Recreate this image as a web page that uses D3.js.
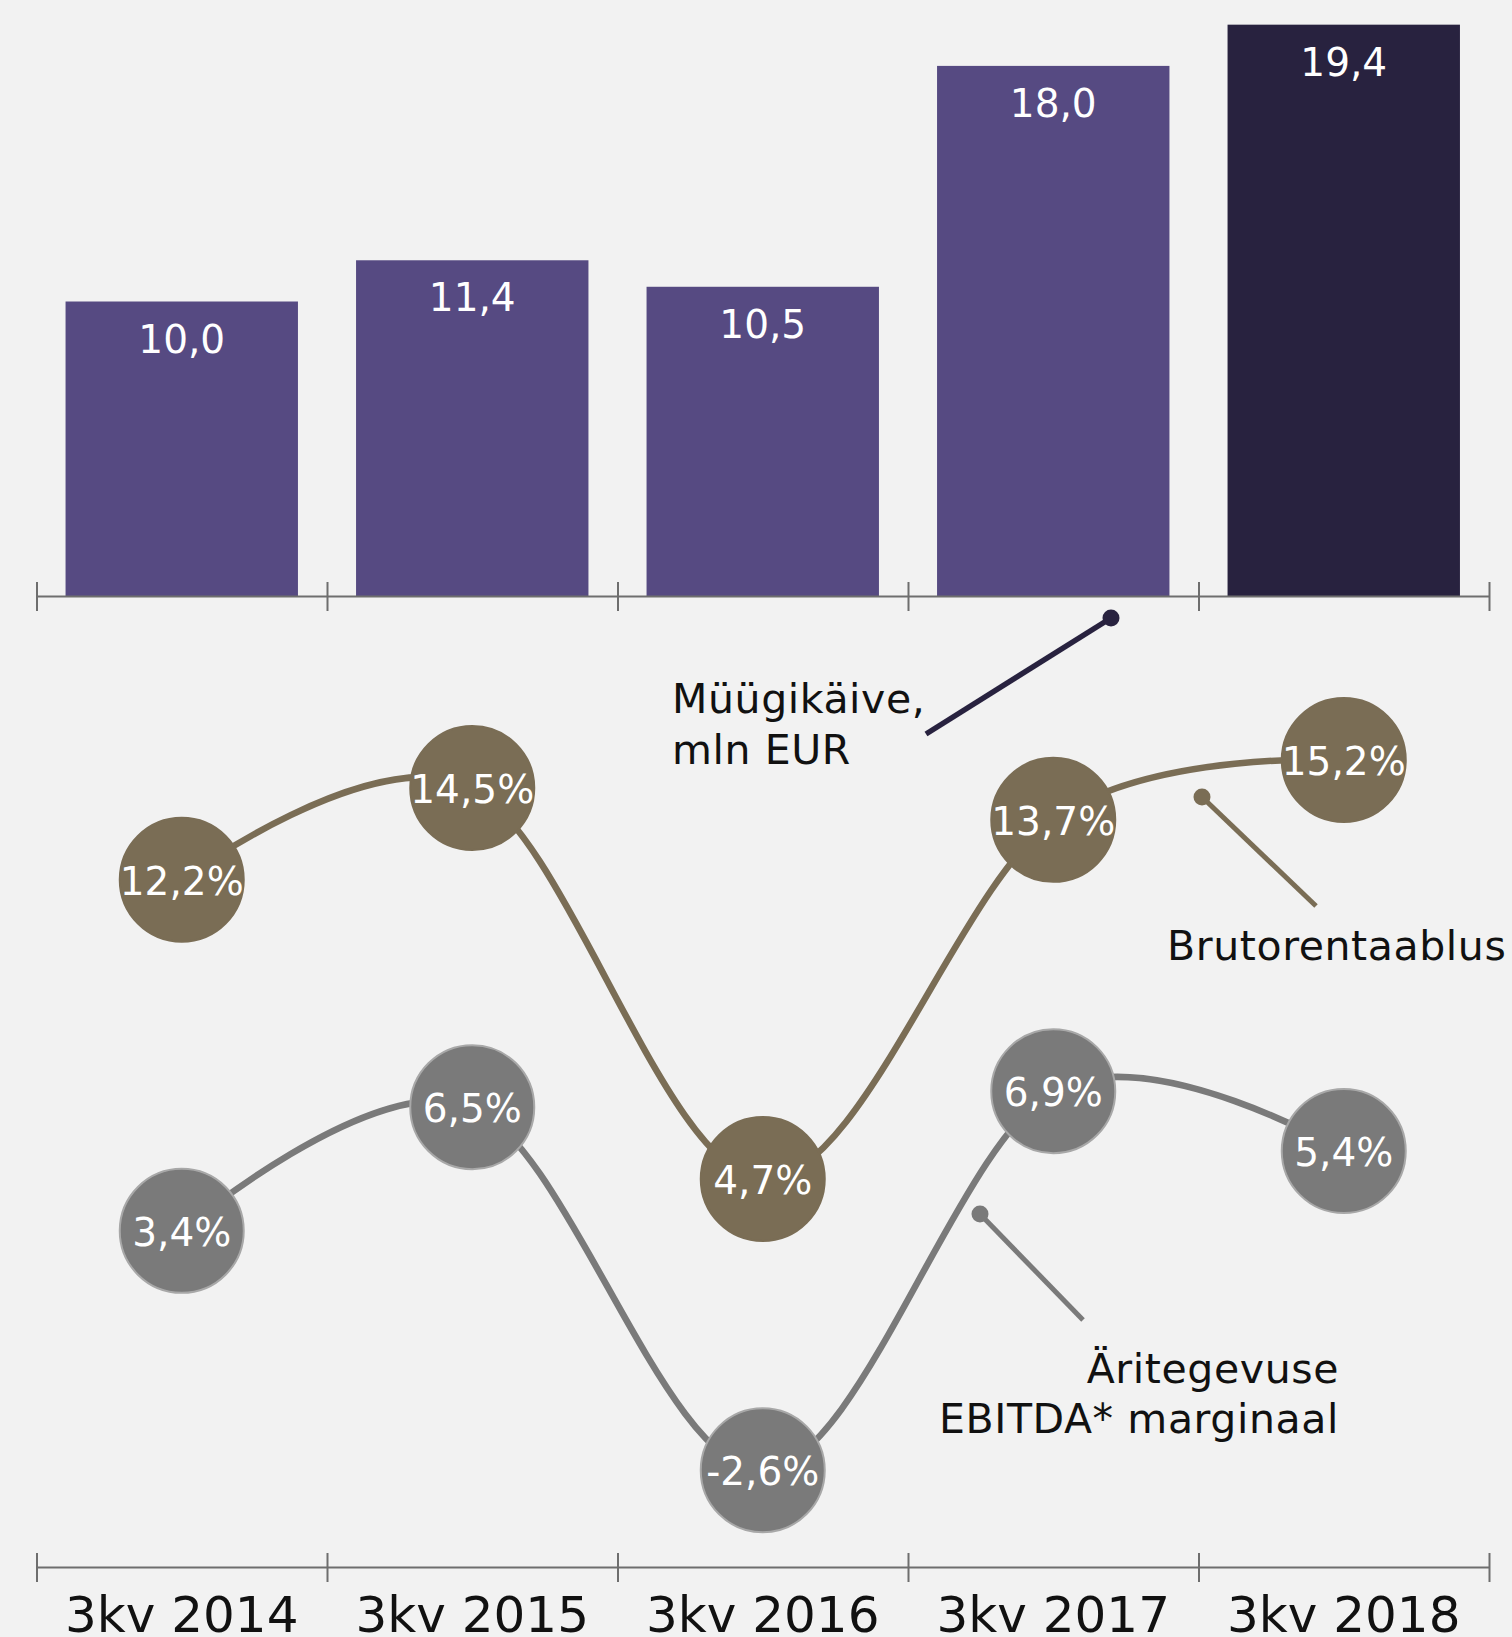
<!DOCTYPE html>
<html>
<head>
<meta charset="utf-8">
<script src="https://cdn.jsdelivr.net/npm/d3@7"></script>
<style>
  html, body { margin: 0; padding: 0; background: #f2f2f2; }
  svg { display: block; font-family: "DejaVu Sans", Lato, sans-serif; }
  .barLabel, .dotLabel { fill: #fff; text-anchor: middle; }
  .note { fill: #111; letter-spacing: 0.6px; }
</style>
</head>
<body>
<div id="chart"></div>
<script>

// data
var quarters = ["3kv 2014", "3kv 2015", "3kv 2016", "3kv 2017", "3kv 2018"]
var sales = [10.0, 11.4, 10.5, 18.0, 19.4]            // Müügikäive, mln EUR
var grossMargin = [12.2, 14.5, 4.7, 13.7, 15.2]      // Brutorentaablus, %
var ebitdaMargin = [3.4, 6.5, -2.6, 6.9, 5.4]        // Äritegevuse EBITDA* marginaal, %

var fmt = d => d.toFixed(1).replace(".", ",")

var width = 1512, height = 1637

var svg = d3.select("#chart").append("svg")
    .attr("width", width)
    .attr("height", height)

svg.append("rect").attr("width", width).attr("height", height).attr("fill", "#f2f2f2")

var x = d3.scaleBand()
    .domain(quarters)
    .range([36.5, 1489])
    .paddingInner(0.2)
    .paddingOuter(0.1)

// edges for the tick marks between categories
var edge = d3.scaleLinear().domain([0, quarters.length]).range(x.range())

var yBar = d3.scaleLinear().domain([0, 20]).range([596, 7])
var yPct = d3.scaleLinear().domain([0, 15]).range([1366.5, 768])

// bars
svg.selectAll(".bar")
    .data(sales)
    .enter().append("rect")
    .attr("class", "bar")
    .attr("x", (d, i) => x(quarters[i]))
    .attr("y", d => yBar(d))
    .attr("width", x.bandwidth())
    .attr("height", d => yBar(0) - yBar(d))
    .attr("fill", (d, i) => i == quarters.length - 1 ? "#28223f" : "#564a82")

svg.selectAll(".barLabel")
    .data(sales)
    .enter().append("text")
    .attr("class", "barLabel")
    .attr("x", (d, i) => x(quarters[i]) + x.bandwidth() / 2)
    .attr("y", d => yBar(d) + 51)
    .attr("font-size", 39)
    .text(fmt)

// axes: line with ticks both sides of it
function drawAxis(yPos) {
    var g = svg.append("g")
        .attr("transform", "translate(0," + yPos + ")")
        .call(d3.axisBottom(edge).tickValues(d3.range(quarters.length + 1)).tickFormat("").tickSizeOuter(0))
    g.select(".domain").attr("stroke", "#6e6e6e").attr("stroke-width", 2)
    g.selectAll(".tick line").attr("stroke", "#6e6e6e").attr("stroke-width", 2).attr("y1", -14).attr("y2", 15)
    return g
}

drawAxis(596)
drawAxis(1567)

svg.selectAll(".cat")
    .data(quarters)
    .enter().append("text")
    .attr("class", "cat")
    .attr("x", d => x(d) + x.bandwidth() / 2)
    .attr("y", 1632)
    .attr("text-anchor", "middle")
    .attr("font-size", 50)
    .attr("fill", "#111")
    .text(d => d)

// margin lines
var line = d3.line()
    .x((d, i) => x(quarters[i]) + x.bandwidth() / 2)
    .y(d => yPct(d))
    .curve(d3.curveCardinal)

var series = [
    {values: grossMargin, colour: "#7a6d55", ring: "#7a6d55"},
    {values: ebitdaMargin, colour: "#7a7a7a", ring: "#a8a8a8"}
]

series.forEach(function(s) {
    svg.append("path")
        .datum(s.values)
        .attr("fill", "none")
        .attr("stroke", s.colour)
        .attr("stroke-width", 6.5)
        .attr("d", line)
})

series.forEach(function(s) {
    var g = svg.append("g")
    g.selectAll("circle")
        .data(s.values)
        .enter().append("circle")
        .attr("cx", (d, i) => x(quarters[i]) + x.bandwidth() / 2)
        .attr("cy", d => yPct(d))
        .attr("r", 62)
        .attr("fill", s.colour)
        .attr("stroke", s.ring)
        .attr("stroke-width", 2)
    g.selectAll("text")
        .data(s.values)
        .enter().append("text")
        .attr("class", "dotLabel")
        .attr("x", (d, i) => x(quarters[i]) + x.bandwidth() / 2)
        .attr("y", d => yPct(d) + 15)
        .attr("font-size", 39)
        .text(d => fmt(d) + "%")
})

// annotations
function pointer(x1, y1, x2, y2, colour, w) {
    svg.append("line")
        .attr("x1", x1).attr("y1", y1).attr("x2", x2).attr("y2", y2)
        .attr("stroke", colour).attr("stroke-width", w)
    svg.append("circle").attr("cx", x1).attr("cy", y1).attr("r", 8.5).attr("fill", colour)
}

pointer(1111, 618, 926, 734, "#28223f", 5.5)
pointer(1202, 797, 1316, 906, "#7a6d55", 5)
pointer(980, 1214, 1083, 1320, "#7a7a7a", 5)

var salesNote = svg.append("text").attr("class", "note").attr("font-size", 41)
salesNote.append("tspan").attr("x", 672).attr("y", 713).text("Müügikäive,")
salesNote.append("tspan").attr("x", 672).attr("y", 764).text("mln EUR")

svg.append("text").attr("class", "note").attr("font-size", 41)
    .attr("x", 1167).attr("y", 960).text("Brutorentaablus")

var ebitdaNote = svg.append("text").attr("class", "note").attr("font-size", 41)
    .attr("text-anchor", "end")
ebitdaNote.append("tspan").attr("x", 1339).attr("y", 1383).text("Äritegevuse")
ebitdaNote.append("tspan").attr("x", 1339).attr("y", 1433).text("EBITDA* marginaal")

</script>
</body>
</html>
